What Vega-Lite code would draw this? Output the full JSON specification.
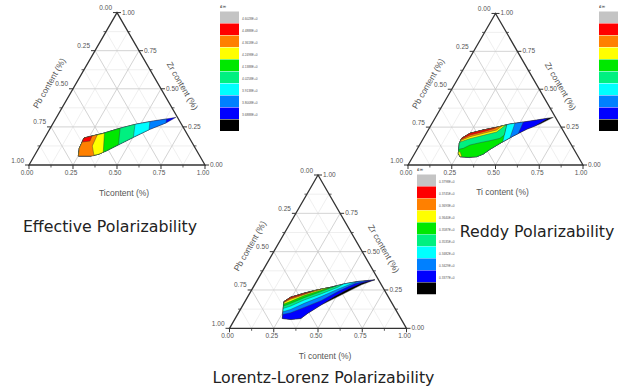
{
"$schema":"https://vega.github.io/schema/vega-lite/v6.json",
"width":619,"height":391,"padding":0,"autosize":"none",
"config":{"view":{"stroke":null}},
"datasets":{"d":[
{"k":"f","p":"A","id":"f","i":0,"ti":0,"zr":0},{"k":"f","p":"A","id":"f","i":1,"ti":1,"zr":0},{"k":"f","p":"A","id":"f","i":2,"ti":0,"zr":1},
{"k":"g","p":"A","id":"t1","i":0,"ti":0.125,"zr":0,"m":0},{"k":"g","p":"A","id":"t1","i":1,"ti":0.125,"zr":0.875,"m":0},
{"k":"g","p":"A","id":"t2","i":0,"ti":0.25,"zr":0,"m":1},{"k":"g","p":"A","id":"t2","i":1,"ti":0.25,"zr":0.75,"m":1},
{"k":"g","p":"A","id":"t3","i":0,"ti":0.375,"zr":0,"m":0},{"k":"g","p":"A","id":"t3","i":1,"ti":0.375,"zr":0.625,"m":0},
{"k":"g","p":"A","id":"t4","i":0,"ti":0.5,"zr":0,"m":1},{"k":"g","p":"A","id":"t4","i":1,"ti":0.5,"zr":0.5,"m":1},
{"k":"g","p":"A","id":"t5","i":0,"ti":0.625,"zr":0,"m":0},{"k":"g","p":"A","id":"t5","i":1,"ti":0.625,"zr":0.375,"m":0},
{"k":"g","p":"A","id":"t6","i":0,"ti":0.75,"zr":0,"m":1},{"k":"g","p":"A","id":"t6","i":1,"ti":0.75,"zr":0.25,"m":1},
{"k":"g","p":"A","id":"t7","i":0,"ti":0.875,"zr":0,"m":0},{"k":"g","p":"A","id":"t7","i":1,"ti":0.875,"zr":0.125,"m":0},
{"k":"g","p":"A","id":"z1","i":0,"ti":0,"zr":0.125,"m":0},{"k":"g","p":"A","id":"z1","i":1,"ti":0.875,"zr":0.125,"m":0},
{"k":"g","p":"A","id":"z2","i":0,"ti":0,"zr":0.25,"m":1},{"k":"g","p":"A","id":"z2","i":1,"ti":0.75,"zr":0.25,"m":1},
{"k":"g","p":"A","id":"z3","i":0,"ti":0,"zr":0.375,"m":0},{"k":"g","p":"A","id":"z3","i":1,"ti":0.625,"zr":0.375,"m":0},
{"k":"g","p":"A","id":"z4","i":0,"ti":0,"zr":0.5,"m":1},{"k":"g","p":"A","id":"z4","i":1,"ti":0.5,"zr":0.5,"m":1},
{"k":"g","p":"A","id":"z5","i":0,"ti":0,"zr":0.625,"m":0},{"k":"g","p":"A","id":"z5","i":1,"ti":0.375,"zr":0.625,"m":0},
{"k":"g","p":"A","id":"z6","i":0,"ti":0,"zr":0.75,"m":1},{"k":"g","p":"A","id":"z6","i":1,"ti":0.25,"zr":0.75,"m":1},
{"k":"g","p":"A","id":"z7","i":0,"ti":0,"zr":0.875,"m":0},{"k":"g","p":"A","id":"z7","i":1,"ti":0.125,"zr":0.875,"m":0},
{"k":"g","p":"A","id":"p1","i":0,"ti":0.875,"zr":0,"m":0},{"k":"g","p":"A","id":"p1","i":1,"ti":0,"zr":0.875,"m":0},
{"k":"g","p":"A","id":"p2","i":0,"ti":0.75,"zr":0,"m":1},{"k":"g","p":"A","id":"p2","i":1,"ti":0,"zr":0.75,"m":1},
{"k":"g","p":"A","id":"p3","i":0,"ti":0.625,"zr":0,"m":0},{"k":"g","p":"A","id":"p3","i":1,"ti":0,"zr":0.625,"m":0},
{"k":"g","p":"A","id":"p4","i":0,"ti":0.5,"zr":0,"m":1},{"k":"g","p":"A","id":"p4","i":1,"ti":0,"zr":0.5,"m":1},
{"k":"g","p":"A","id":"p5","i":0,"ti":0.375,"zr":0,"m":0},{"k":"g","p":"A","id":"p5","i":1,"ti":0,"zr":0.375,"m":0},
{"k":"g","p":"A","id":"p6","i":0,"ti":0.25,"zr":0,"m":1},{"k":"g","p":"A","id":"p6","i":1,"ti":0,"zr":0.25,"m":1},
{"k":"g","p":"A","id":"p7","i":0,"ti":0.125,"zr":0,"m":0},{"k":"g","p":"A","id":"p7","i":1,"ti":0,"zr":0.125,"m":0},
{"k":"k","p":"A","ax":"L","m":1,"ti":0,"zr":1},{"k":"k","p":"A","ax":"L","m":0,"ti":0,"zr":0.875},{"k":"k","p":"A","ax":"L","m":1,"ti":0,"zr":0.75},{"k":"k","p":"A","ax":"L","m":0,"ti":0,"zr":0.625},{"k":"k","p":"A","ax":"L","m":1,"ti":0,"zr":0.5},{"k":"k","p":"A","ax":"L","m":0,"ti":0,"zr":0.375},{"k":"k","p":"A","ax":"L","m":1,"ti":0,"zr":0.25},{"k":"k","p":"A","ax":"L","m":0,"ti":0,"zr":0.125},{"k":"k","p":"A","ax":"L","m":1,"ti":0,"zr":0},
{"k":"k","p":"A","ax":"R","m":1,"ti":0,"zr":1},{"k":"k","p":"A","ax":"R","m":0,"ti":0.125,"zr":0.875},{"k":"k","p":"A","ax":"R","m":1,"ti":0.25,"zr":0.75},{"k":"k","p":"A","ax":"R","m":0,"ti":0.375,"zr":0.625},{"k":"k","p":"A","ax":"R","m":1,"ti":0.5,"zr":0.5},{"k":"k","p":"A","ax":"R","m":0,"ti":0.625,"zr":0.375},{"k":"k","p":"A","ax":"R","m":1,"ti":0.75,"zr":0.25},{"k":"k","p":"A","ax":"R","m":0,"ti":0.875,"zr":0.125},{"k":"k","p":"A","ax":"R","m":1,"ti":1,"zr":0},
{"k":"k","p":"A","ax":"B","m":1,"ti":0,"zr":0},{"k":"k","p":"A","ax":"B","m":0,"ti":0.125,"zr":0},{"k":"k","p":"A","ax":"B","m":1,"ti":0.25,"zr":0},{"k":"k","p":"A","ax":"B","m":0,"ti":0.375,"zr":0},{"k":"k","p":"A","ax":"B","m":1,"ti":0.5,"zr":0},{"k":"k","p":"A","ax":"B","m":0,"ti":0.625,"zr":0},{"k":"k","p":"A","ax":"B","m":1,"ti":0.75,"zr":0},{"k":"k","p":"A","ax":"B","m":0,"ti":0.875,"zr":0},{"k":"k","p":"A","ax":"B","m":1,"ti":1,"zr":0},
{"k":"l","p":"A","ax":"L","ti":0,"zr":1,"t":"0.00"},{"k":"l","p":"A","ax":"L","ti":0,"zr":0.75,"t":"0.25"},{"k":"l","p":"A","ax":"L","ti":0,"zr":0.5,"t":"0.50"},{"k":"l","p":"A","ax":"L","ti":0,"zr":0.25,"t":"0.75"},{"k":"l","p":"A","ax":"L","ti":0,"zr":0,"t":"1.00"},
{"k":"l","p":"A","ax":"R","ti":1,"zr":0,"t":"0.00"},{"k":"l","p":"A","ax":"R","ti":0.75,"zr":0.25,"t":"0.25"},{"k":"l","p":"A","ax":"R","ti":0.5,"zr":0.5,"t":"0.50"},{"k":"l","p":"A","ax":"R","ti":0.25,"zr":0.75,"t":"0.75"},{"k":"l","p":"A","ax":"R","ti":0,"zr":1,"t":"1.00"},
{"k":"l","p":"A","ax":"B","ti":0,"zr":0,"t":"0.00"},{"k":"l","p":"A","ax":"B","ti":0.25,"zr":0,"t":"0.25"},{"k":"l","p":"A","ax":"B","ti":0.5,"zr":0,"t":"0.50"},{"k":"l","p":"A","ax":"B","ti":0.75,"zr":0,"t":"0.75"},{"k":"l","p":"A","ax":"B","ti":1,"zr":0,"t":"1.00"},
{"k":"a","p":"E","ax":"L","t":"Pb content (%)","ti":-0.1535,"zr":0.537},{"k":"a","p":"E","ax":"R","t":"Zr content (%)","ti":0.6122,"zr":0.5196},{"k":"a","p":"E","ax":"B","t":"Ticontent (%)","ti":0.6306,"zr":-0.1813},
{"k":"a","p":"R","ax":"L","t":"Pb content (%)","ti":-0.1535,"zr":0.537},{"k":"a","p":"R","ax":"R","t":"Zr content (%)","ti":0.6122,"zr":0.5196},{"k":"a","p":"R","ax":"B","t":"Ti content (%)","ti":0.6306,"zr":-0.1813},
{"k":"a","p":"L","ax":"L","t":"Pb content (%)","ti":-0.1535,"zr":0.537},{"k":"a","p":"L","ax":"R","t":"Zr content (%)","ti":0.6122,"zr":0.5196},{"k":"a","p":"L","ax":"B","t":"Ti content (%)","ti":0.6306,"zr":-0.1813},
{"k":"T","p":"E","t":"Effective Polarizability","ti":0.68,"zr":-0.4396},
{"k":"T","p":"R","t":"Reddy Polarizability","ti":0.9746,"zr":-0.4751},
{"k":"T","p":"L","t":"Lorentz-Lorenz Polarizability","ti":0.7085,"zr":-0.3549},

{"k":"c","p":"E","id":"e01","lv":"E8","i":0,"ti":0.224,"zr":0.177},{"k":"c","p":"E","id":"e01","lv":"E8","i":1,"ti":0.318,"zr":0.208},{"k":"c","p":"E","id":"e01","lv":"E8","i":2,"ti":0.397,"zr":0.241},{"k":"c","p":"E","id":"e01","lv":"E8","i":3,"ti":0.478,"zr":0.269},{"k":"c","p":"E","id":"e01","lv":"E8","i":4,"ti":0.562,"zr":0.289},{"k":"c","p":"E","id":"e01","lv":"E8","i":5,"ti":0.648,"zr":0.306},{"k":"c","p":"E","id":"e01","lv":"E8","i":6,"ti":0.679,"zr":0.313},{"k":"c","p":"E","id":"e01","lv":"E8","i":7,"ti":0.643,"zr":0.278},{"k":"c","p":"E","id":"e01","lv":"E8","i":8,"ti":0.570,"zr":0.234},{"k":"c","p":"E","id":"e01","lv":"E8","i":9,"ti":0.502,"zr":0.182},{"k":"c","p":"E","id":"e01","lv":"E8","i":10,"ti":0.448,"zr":0.138},{"k":"c","p":"E","id":"e01","lv":"E8","i":11,"ti":0.394,"zr":0.094},{"k":"c","p":"E","id":"e01","lv":"E8","i":12,"ti":0.359,"zr":0.070},{"k":"c","p":"E","id":"e01","lv":"E8","i":13,"ti":0.318,"zr":0.059},{"k":"c","p":"E","id":"e01","lv":"E8","i":14,"ti":0.251,"zr":0.059},{"k":"c","p":"E","id":"e01","lv":"E8","i":15,"ti":0.231,"zr":0.110},
{"k":"c","p":"E","id":"e02","lv":"E7","i":0,"ti":0.631,"zr":0.302},{"k":"c","p":"E","id":"e02","lv":"E7","i":1,"ti":0.640,"zr":0.276},{"k":"c","p":"E","id":"e02","lv":"E7","i":2,"ti":0.570,"zr":0.234},{"k":"c","p":"E","id":"e02","lv":"E7","i":3,"ti":0.502,"zr":0.182},{"k":"c","p":"E","id":"e02","lv":"E7","i":4,"ti":0.448,"zr":0.138},{"k":"c","p":"E","id":"e02","lv":"E7","i":5,"ti":0.394,"zr":0.094},{"k":"c","p":"E","id":"e02","lv":"E7","i":6,"ti":0.359,"zr":0.070},{"k":"c","p":"E","id":"e02","lv":"E7","i":7,"ti":0.318,"zr":0.059},{"k":"c","p":"E","id":"e02","lv":"E7","i":8,"ti":0.251,"zr":0.059},{"k":"c","p":"E","id":"e02","lv":"E7","i":9,"ti":0.231,"zr":0.110},{"k":"c","p":"E","id":"e02","lv":"E7","i":10,"ti":0.224,"zr":0.177},{"k":"c","p":"E","id":"e02","lv":"E7","i":11,"ti":0.318,"zr":0.208},{"k":"c","p":"E","id":"e02","lv":"E7","i":12,"ti":0.397,"zr":0.241},{"k":"c","p":"E","id":"e02","lv":"E7","i":13,"ti":0.478,"zr":0.269},{"k":"c","p":"E","id":"e02","lv":"E7","i":14,"ti":0.562,"zr":0.289},
{"k":"c","p":"E","id":"e03","lv":"E6","i":0,"ti":0.545,"zr":0.284},{"k":"c","p":"E","id":"e03","lv":"E6","i":1,"ti":0.566,"zr":0.232},{"k":"c","p":"E","id":"e03","lv":"E6","i":2,"ti":0.502,"zr":0.182},{"k":"c","p":"E","id":"e03","lv":"E6","i":3,"ti":0.448,"zr":0.138},{"k":"c","p":"E","id":"e03","lv":"E6","i":4,"ti":0.394,"zr":0.094},{"k":"c","p":"E","id":"e03","lv":"E6","i":5,"ti":0.359,"zr":0.070},{"k":"c","p":"E","id":"e03","lv":"E6","i":6,"ti":0.318,"zr":0.059},{"k":"c","p":"E","id":"e03","lv":"E6","i":7,"ti":0.251,"zr":0.059},{"k":"c","p":"E","id":"e03","lv":"E6","i":8,"ti":0.231,"zr":0.110},{"k":"c","p":"E","id":"e03","lv":"E6","i":9,"ti":0.224,"zr":0.177},{"k":"c","p":"E","id":"e03","lv":"E6","i":10,"ti":0.318,"zr":0.208},{"k":"c","p":"E","id":"e03","lv":"E6","i":11,"ti":0.397,"zr":0.241},{"k":"c","p":"E","id":"e03","lv":"E6","i":12,"ti":0.478,"zr":0.269},
{"k":"c","p":"E","id":"e04","lv":"E5","i":0,"ti":0.469,"zr":0.267},{"k":"c","p":"E","id":"e04","lv":"E5","i":1,"ti":0.502,"zr":0.182},{"k":"c","p":"E","id":"e04","lv":"E5","i":2,"ti":0.448,"zr":0.138},{"k":"c","p":"E","id":"e04","lv":"E5","i":3,"ti":0.394,"zr":0.094},{"k":"c","p":"E","id":"e04","lv":"E5","i":4,"ti":0.359,"zr":0.070},{"k":"c","p":"E","id":"e04","lv":"E5","i":5,"ti":0.318,"zr":0.059},{"k":"c","p":"E","id":"e04","lv":"E5","i":6,"ti":0.251,"zr":0.059},{"k":"c","p":"E","id":"e04","lv":"E5","i":7,"ti":0.231,"zr":0.110},{"k":"c","p":"E","id":"e04","lv":"E5","i":8,"ti":0.224,"zr":0.177},{"k":"c","p":"E","id":"e04","lv":"E5","i":9,"ti":0.318,"zr":0.208},{"k":"c","p":"E","id":"e04","lv":"E5","i":10,"ti":0.397,"zr":0.241},
{"k":"c","p":"E","id":"e05","lv":"E4","i":0,"ti":0.397,"zr":0.241},{"k":"c","p":"E","id":"e05","lv":"E4","i":1,"ti":0.441,"zr":0.135},{"k":"c","p":"E","id":"e05","lv":"E4","i":2,"ti":0.394,"zr":0.094},{"k":"c","p":"E","id":"e05","lv":"E4","i":3,"ti":0.359,"zr":0.070},{"k":"c","p":"E","id":"e05","lv":"E4","i":4,"ti":0.318,"zr":0.059},{"k":"c","p":"E","id":"e05","lv":"E4","i":5,"ti":0.251,"zr":0.059},{"k":"c","p":"E","id":"e05","lv":"E4","i":6,"ti":0.231,"zr":0.110},{"k":"c","p":"E","id":"e05","lv":"E4","i":7,"ti":0.224,"zr":0.177},{"k":"c","p":"E","id":"e05","lv":"E4","i":8,"ti":0.318,"zr":0.208},
{"k":"c","p":"E","id":"e06","lv":"E3","i":0,"ti":0.324,"zr":0.209},{"k":"c","p":"E","id":"e06","lv":"E3","i":1,"ti":0.380,"zr":0.084},{"k":"c","p":"E","id":"e06","lv":"E3","i":2,"ti":0.359,"zr":0.070},{"k":"c","p":"E","id":"e06","lv":"E3","i":3,"ti":0.318,"zr":0.059},{"k":"c","p":"E","id":"e06","lv":"E3","i":4,"ti":0.251,"zr":0.059},{"k":"c","p":"E","id":"e06","lv":"E3","i":5,"ti":0.231,"zr":0.110},{"k":"c","p":"E","id":"e06","lv":"E3","i":6,"ti":0.224,"zr":0.177},
{"k":"c","p":"E","id":"e07","lv":"E2","i":0,"ti":0.289,"zr":0.199},{"k":"c","p":"E","id":"e07","lv":"E2","i":1,"ti":0.297,"zr":0.125},{"k":"c","p":"E","id":"e07","lv":"E2","i":2,"ti":0.339,"zr":0.061},{"k":"c","p":"E","id":"e07","lv":"E2","i":3,"ti":0.318,"zr":0.059},{"k":"c","p":"E","id":"e07","lv":"E2","i":4,"ti":0.251,"zr":0.059},{"k":"c","p":"E","id":"e07","lv":"E2","i":5,"ti":0.231,"zr":0.110},{"k":"c","p":"E","id":"e07","lv":"E2","i":6,"ti":0.224,"zr":0.177},
{"k":"c","p":"E","id":"e08","lv":"E1","i":0,"ti":0.224,"zr":0.177},{"k":"c","p":"E","id":"e08","lv":"E1","i":1,"ti":0.263,"zr":0.190},{"k":"c","p":"E","id":"e08","lv":"E1","i":2,"ti":0.268,"zr":0.157},{"k":"c","p":"E","id":"e08","lv":"E1","i":3,"ti":0.227,"zr":0.151},

{"k":"c","p":"R","id":"r01","lv":"R9","i":0,"ti":0.2187,"zr":0.1759},{"k":"c","p":"R","id":"r01","lv":"R9","i":1,"ti":0.2498,"zr":0.2089},{"k":"c","p":"R","id":"r01","lv":"R9","i":2,"ti":0.3150,"zr":0.2309},{"k":"c","p":"R","id":"r01","lv":"R9","i":3,"ti":0.3824,"zr":0.2485},{"k":"c","p":"R","id":"r01","lv":"R9","i":4,"ti":0.4476,"zr":0.2705},{"k":"c","p":"R","id":"r01","lv":"R9","i":5,"ti":0.5172,"zr":0.2837},{"k":"c","p":"R","id":"r01","lv":"R9","i":6,"ti":0.5868,"zr":0.2969},{"k":"c","p":"R","id":"r01","lv":"R9","i":7,"ti":0.6733,"zr":0.3145},{"k":"c","p":"R","id":"r01","lv":"R9","i":8,"ti":0.6191,"zr":0.2705},{"k":"c","p":"R","id":"r01","lv":"R9","i":9,"ti":0.5605,"zr":0.2353},{"k":"c","p":"R","id":"r01","lv":"R9","i":10,"ti":0.5063,"zr":0.1913},{"k":"c","p":"R","id":"r01","lv":"R9","i":11,"ti":0.4543,"zr":0.1429},{"k":"c","p":"R","id":"r01","lv":"R9","i":12,"ti":0.4169,"zr":0.1033},{"k":"c","p":"R","id":"r01","lv":"R9","i":13,"ti":0.3942,"zr":0.0725},{"k":"c","p":"R","id":"r01","lv":"R9","i":14,"ti":0.3649,"zr":0.0549},{"k":"c","p":"R","id":"r01","lv":"R9","i":15,"ti":0.3195,"zr":0.0505},{"k":"c","p":"R","id":"r01","lv":"R9","i":16,"ti":0.2697,"zr":0.0549},{"k":"c","p":"R","id":"r01","lv":"R9","i":17,"ti":0.2492,"zr":0.0769},{"k":"c","p":"R","id":"r01","lv":"R9","i":18,"ti":0.2219,"zr":0.1429},
{"k":"c","p":"R","id":"r02","lv":"R8","i":0,"ti":0.6473,"zr":0.3092},{"k":"c","p":"R","id":"r02","lv":"R8","i":1,"ti":0.5971,"zr":0.2573},{"k":"c","p":"R","id":"r02","lv":"R8","i":2,"ti":0.5605,"zr":0.2353},{"k":"c","p":"R","id":"r02","lv":"R8","i":3,"ti":0.5063,"zr":0.1913},{"k":"c","p":"R","id":"r02","lv":"R8","i":4,"ti":0.4543,"zr":0.1429},{"k":"c","p":"R","id":"r02","lv":"R8","i":5,"ti":0.4169,"zr":0.1033},{"k":"c","p":"R","id":"r02","lv":"R8","i":6,"ti":0.3942,"zr":0.0725},{"k":"c","p":"R","id":"r02","lv":"R8","i":7,"ti":0.3649,"zr":0.0549},{"k":"c","p":"R","id":"r02","lv":"R8","i":8,"ti":0.3195,"zr":0.0505},{"k":"c","p":"R","id":"r02","lv":"R8","i":9,"ti":0.2697,"zr":0.0549},{"k":"c","p":"R","id":"r02","lv":"R8","i":10,"ti":0.2492,"zr":0.0769},{"k":"c","p":"R","id":"r02","lv":"R8","i":11,"ti":0.2219,"zr":0.1429},{"k":"c","p":"R","id":"r02","lv":"R8","i":12,"ti":0.2187,"zr":0.1759},{"k":"c","p":"R","id":"r02","lv":"R8","i":13,"ti":0.2498,"zr":0.2089},{"k":"c","p":"R","id":"r02","lv":"R8","i":14,"ti":0.3150,"zr":0.2309},{"k":"c","p":"R","id":"r02","lv":"R8","i":15,"ti":0.3824,"zr":0.2485},{"k":"c","p":"R","id":"r02","lv":"R8","i":16,"ti":0.4476,"zr":0.2705},{"k":"c","p":"R","id":"r02","lv":"R8","i":17,"ti":0.5172,"zr":0.2837},{"k":"c","p":"R","id":"r02","lv":"R8","i":18,"ti":0.5868,"zr":0.2969},
{"k":"c","p":"R","id":"r03","lv":"R7","i":0,"ti":0.5172,"zr":0.2837},{"k":"c","p":"R","id":"r03","lv":"R7","i":1,"ti":0.5266,"zr":0.2078},{"k":"c","p":"R","id":"r03","lv":"R7","i":2,"ti":0.5063,"zr":0.1913},{"k":"c","p":"R","id":"r03","lv":"R7","i":3,"ti":0.4543,"zr":0.1429},{"k":"c","p":"R","id":"r03","lv":"R7","i":4,"ti":0.4169,"zr":0.1033},{"k":"c","p":"R","id":"r03","lv":"R7","i":5,"ti":0.3942,"zr":0.0725},{"k":"c","p":"R","id":"r03","lv":"R7","i":6,"ti":0.3649,"zr":0.0549},{"k":"c","p":"R","id":"r03","lv":"R7","i":7,"ti":0.3195,"zr":0.0505},{"k":"c","p":"R","id":"r03","lv":"R7","i":8,"ti":0.2697,"zr":0.0549},{"k":"c","p":"R","id":"r03","lv":"R7","i":9,"ti":0.2492,"zr":0.0769},{"k":"c","p":"R","id":"r03","lv":"R7","i":10,"ti":0.2219,"zr":0.1429},{"k":"c","p":"R","id":"r03","lv":"R7","i":11,"ti":0.2187,"zr":0.1759},{"k":"c","p":"R","id":"r03","lv":"R7","i":12,"ti":0.2498,"zr":0.2089},{"k":"c","p":"R","id":"r03","lv":"R7","i":13,"ti":0.3150,"zr":0.2309},{"k":"c","p":"R","id":"r03","lv":"R7","i":14,"ti":0.3824,"zr":0.2485},{"k":"c","p":"R","id":"r03","lv":"R7","i":15,"ti":0.4476,"zr":0.2705},
{"k":"c","p":"R","id":"r04","lv":"R6","i":0,"ti":0.4737,"zr":0.2755},{"k":"c","p":"R","id":"r04","lv":"R6","i":1,"ti":0.4933,"zr":0.1792},{"k":"c","p":"R","id":"r04","lv":"R6","i":2,"ti":0.4543,"zr":0.1429},{"k":"c","p":"R","id":"r04","lv":"R6","i":3,"ti":0.4169,"zr":0.1033},{"k":"c","p":"R","id":"r04","lv":"R6","i":4,"ti":0.3942,"zr":0.0725},{"k":"c","p":"R","id":"r04","lv":"R6","i":5,"ti":0.3649,"zr":0.0549},{"k":"c","p":"R","id":"r04","lv":"R6","i":6,"ti":0.3195,"zr":0.0505},{"k":"c","p":"R","id":"r04","lv":"R6","i":7,"ti":0.2697,"zr":0.0549},{"k":"c","p":"R","id":"r04","lv":"R6","i":8,"ti":0.2492,"zr":0.0769},{"k":"c","p":"R","id":"r04","lv":"R6","i":9,"ti":0.2219,"zr":0.1429},{"k":"c","p":"R","id":"r04","lv":"R6","i":10,"ti":0.2187,"zr":0.1759},{"k":"c","p":"R","id":"r04","lv":"R6","i":11,"ti":0.2498,"zr":0.2089},{"k":"c","p":"R","id":"r04","lv":"R6","i":12,"ti":0.3150,"zr":0.2309},{"k":"c","p":"R","id":"r04","lv":"R6","i":13,"ti":0.3824,"zr":0.2485},{"k":"c","p":"R","id":"r04","lv":"R6","i":14,"ti":0.4476,"zr":0.2705},
{"k":"c","p":"R","id":"r05","lv":"R4","i":0,"ti":0.4313,"zr":0.2650},{"k":"c","p":"R","id":"r05","lv":"R4","i":1,"ti":0.4512,"zr":0.1979},{"k":"c","p":"R","id":"r05","lv":"R4","i":2,"ti":0.4647,"zr":0.1526},{"k":"c","p":"R","id":"r05","lv":"R4","i":3,"ti":0.4543,"zr":0.1429},{"k":"c","p":"R","id":"r05","lv":"R4","i":4,"ti":0.4169,"zr":0.1033},{"k":"c","p":"R","id":"r05","lv":"R4","i":5,"ti":0.3942,"zr":0.0725},{"k":"c","p":"R","id":"r05","lv":"R4","i":6,"ti":0.3649,"zr":0.0549},{"k":"c","p":"R","id":"r05","lv":"R4","i":7,"ti":0.3195,"zr":0.0505},{"k":"c","p":"R","id":"r05","lv":"R4","i":8,"ti":0.2697,"zr":0.0549},{"k":"c","p":"R","id":"r05","lv":"R4","i":9,"ti":0.2492,"zr":0.0769},{"k":"c","p":"R","id":"r05","lv":"R4","i":10,"ti":0.2219,"zr":0.1429},{"k":"c","p":"R","id":"r05","lv":"R4","i":11,"ti":0.2187,"zr":0.1759},{"k":"c","p":"R","id":"r05","lv":"R4","i":12,"ti":0.2498,"zr":0.2089},{"k":"c","p":"R","id":"r05","lv":"R4","i":13,"ti":0.3150,"zr":0.2309},{"k":"c","p":"R","id":"r05","lv":"R4","i":14,"ti":0.3824,"zr":0.2485},
{"k":"c","p":"R","id":"r06","lv":"R5","i":0,"ti":0.2379,"zr":0.1033},{"k":"c","p":"R","id":"r06","lv":"R5","i":1,"ti":0.2219,"zr":0.1429},{"k":"c","p":"R","id":"r06","lv":"R5","i":2,"ti":0.2187,"zr":0.1759},{"k":"c","p":"R","id":"r06","lv":"R5","i":3,"ti":0.2498,"zr":0.2089},{"k":"c","p":"R","id":"r06","lv":"R5","i":4,"ti":0.3150,"zr":0.2309},{"k":"c","p":"R","id":"r06","lv":"R5","i":5,"ti":0.3824,"zr":0.2485},{"k":"c","p":"R","id":"r06","lv":"R5","i":6,"ti":0.4313,"zr":0.2650},{"k":"c","p":"R","id":"r06","lv":"R5","i":7,"ti":0.4512,"zr":0.1979},{"k":"c","p":"R","id":"r06","lv":"R5","i":8,"ti":0.4378,"zr":0.1759},{"k":"c","p":"R","id":"r06","lv":"R5","i":9,"ti":0.3883,"zr":0.1605},{"k":"c","p":"R","id":"r06","lv":"R5","i":10,"ti":0.3378,"zr":0.1473},{"k":"c","p":"R","id":"r06","lv":"R5","i":11,"ti":0.2884,"zr":0.1319},{"k":"c","p":"R","id":"r06","lv":"R5","i":12,"ti":0.2613,"zr":0.1099},
{"k":"c","p":"R","id":"r07","lv":"R3","i":0,"ti":0.2213,"zr":0.1517},{"k":"c","p":"R","id":"r07","lv":"R3","i":1,"ti":0.2187,"zr":0.1759},{"k":"c","p":"R","id":"r07","lv":"R3","i":2,"ti":0.2498,"zr":0.2089},{"k":"c","p":"R","id":"r07","lv":"R3","i":3,"ti":0.3150,"zr":0.2309},{"k":"c","p":"R","id":"r07","lv":"R3","i":4,"ti":0.3824,"zr":0.2485},{"k":"c","p":"R","id":"r07","lv":"R3","i":5,"ti":0.4265,"zr":0.2632},{"k":"c","p":"R","id":"r07","lv":"R3","i":6,"ti":0.3978,"zr":0.2177},{"k":"c","p":"R","id":"r07","lv":"R3","i":7,"ti":0.3326,"zr":0.1957},{"k":"c","p":"R","id":"r07","lv":"R3","i":8,"ti":0.2674,"zr":0.1737},
{"k":"c","p":"R","id":"r08","lv":"R2","i":0,"ti":0.2202,"zr":0.1616},{"k":"c","p":"R","id":"r08","lv":"R2","i":1,"ti":0.2187,"zr":0.1759},{"k":"c","p":"R","id":"r08","lv":"R2","i":2,"ti":0.2498,"zr":0.2089},{"k":"c","p":"R","id":"r08","lv":"R2","i":3,"ti":0.3150,"zr":0.2309},{"k":"c","p":"R","id":"r08","lv":"R2","i":4,"ti":0.3824,"zr":0.2485},{"k":"c","p":"R","id":"r08","lv":"R2","i":5,"ti":0.4069,"zr":0.2566},{"k":"c","p":"R","id":"r08","lv":"R2","i":6,"ti":0.3913,"zr":0.2309},{"k":"c","p":"R","id":"r08","lv":"R2","i":7,"ti":0.3261,"zr":0.2089},{"k":"c","p":"R","id":"r08","lv":"R2","i":8,"ti":0.2609,"zr":0.1869},
{"k":"c","p":"R","id":"r09","lv":"R1","i":0,"ti":0.2196,"zr":0.1704},{"k":"c","p":"R","id":"r09","lv":"R1","i":1,"ti":0.2187,"zr":0.1759},{"k":"c","p":"R","id":"r09","lv":"R1","i":2,"ti":0.2498,"zr":0.2089},{"k":"c","p":"R","id":"r09","lv":"R1","i":3,"ti":0.3150,"zr":0.2309},{"k":"c","p":"R","id":"r09","lv":"R1","i":4,"ti":0.3824,"zr":0.2485},{"k":"c","p":"R","id":"r09","lv":"R1","i":5,"ti":0.3684,"zr":0.2386},{"k":"c","p":"R","id":"r09","lv":"R1","i":6,"ti":0.3206,"zr":0.2199},{"k":"c","p":"R","id":"r09","lv":"R1","i":7,"ti":0.2554,"zr":0.1979},
{"k":"c","p":"R","id":"r10","lv":"R3","i":0,"ti":0.2437,"zr":0.0901},{"k":"c","p":"R","id":"r10","lv":"R3","i":1,"ti":0.2573,"zr":0.0835},{"k":"c","p":"R","id":"r10","lv":"R3","i":2,"ti":0.2781,"zr":0.0571},{"k":"c","p":"R","id":"r10","lv":"R3","i":3,"ti":0.2697,"zr":0.0549},{"k":"c","p":"R","id":"r10","lv":"R3","i":4,"ti":0.2492,"zr":0.0769},

{"k":"c","p":"L","id":"l01","lv":"L9","i":0,"ti":0.2662,"zr":0.0638},{"k":"c","p":"L","id":"l01","lv":"L9","i":1,"ti":0.3171,"zr":0.0572},{"k":"c","p":"L","id":"l01","lv":"L9","i":2,"ti":0.3710,"zr":0.0638},{"k":"c","p":"L","id":"l01","lv":"L9","i":3,"ti":0.3926,"zr":0.0968},{"k":"c","p":"L","id":"l01","lv":"L9","i":4,"ti":0.4413,"zr":0.1518},{"k":"c","p":"L","id":"l01","lv":"L9","i":5,"ti":0.4955,"zr":0.1957},{"k":"c","p":"L","id":"l01","lv":"L9","i":6,"ti":0.5497,"zr":0.2397},{"k":"c","p":"L","id":"l01","lv":"L9","i":7,"ti":0.6039,"zr":0.2837},{"k":"c","p":"L","id":"l01","lv":"L9","i":8,"ti":0.6636,"zr":0.3167},{"k":"c","p":"L","id":"l01","lv":"L9","i":9,"ti":0.5738,"zr":0.3057},{"k":"c","p":"L","id":"l01","lv":"L9","i":10,"ti":0.5053,"zr":0.2903},{"k":"c","p":"L","id":"l01","lv":"L9","i":11,"ti":0.4402,"zr":0.2683},{"k":"c","p":"L","id":"l01","lv":"L9","i":12,"ti":0.3728,"zr":0.2507},{"k":"c","p":"L","id":"l01","lv":"L9","i":13,"ti":0.3076,"zr":0.2287},{"k":"c","p":"L","id":"l01","lv":"L9","i":14,"ti":0.2446,"zr":0.2023},{"k":"c","p":"L","id":"l01","lv":"L9","i":15,"ti":0.2207,"zr":0.1737},
{"k":"c","p":"L","id":"l02","lv":"L8","i":0,"ti":0.2662,"zr":0.0638},{"k":"c","p":"L","id":"l02","lv":"L8","i":1,"ti":0.3171,"zr":0.0572},{"k":"c","p":"L","id":"l02","lv":"L8","i":2,"ti":0.3710,"zr":0.0638},{"k":"c","p":"L","id":"l02","lv":"L8","i":3,"ti":0.3926,"zr":0.0968},{"k":"c","p":"L","id":"l02","lv":"L8","i":4,"ti":0.4413,"zr":0.1518},{"k":"c","p":"L","id":"l02","lv":"L8","i":5,"ti":0.4900,"zr":0.2067},{"k":"c","p":"L","id":"l02","lv":"L8","i":6,"ti":0.5420,"zr":0.2551},{"k":"c","p":"L","id":"l02","lv":"L8","i":7,"ti":0.5984,"zr":0.2947},{"k":"c","p":"L","id":"l02","lv":"L8","i":8,"ti":0.6636,"zr":0.3167},{"k":"c","p":"L","id":"l02","lv":"L8","i":9,"ti":0.5738,"zr":0.3057},{"k":"c","p":"L","id":"l02","lv":"L8","i":10,"ti":0.5053,"zr":0.2903},{"k":"c","p":"L","id":"l02","lv":"L8","i":11,"ti":0.4402,"zr":0.2683},{"k":"c","p":"L","id":"l02","lv":"L8","i":12,"ti":0.3728,"zr":0.2507},{"k":"c","p":"L","id":"l02","lv":"L8","i":13,"ti":0.3076,"zr":0.2287},{"k":"c","p":"L","id":"l02","lv":"L8","i":14,"ti":0.2446,"zr":0.2023},{"k":"c","p":"L","id":"l02","lv":"L8","i":15,"ti":0.2207,"zr":0.1737},
{"k":"c","p":"L","id":"l03","lv":"L7","i":0,"ti":0.2549,"zr":0.0902},{"k":"c","p":"L","id":"l03","lv":"L7","i":1,"ti":0.2951,"zr":0.1012},{"k":"c","p":"L","id":"l03","lv":"L7","i":2,"ti":0.3537,"zr":0.1364},{"k":"c","p":"L","id":"l03","lv":"L7","i":3,"ti":0.4269,"zr":0.1803},{"k":"c","p":"L","id":"l03","lv":"L7","i":4,"ti":0.4925,"zr":0.2397},{"k":"c","p":"L","id":"l03","lv":"L7","i":5,"ti":0.5624,"zr":0.2903},{"k":"c","p":"L","id":"l03","lv":"L7","i":6,"ti":0.6276,"zr":0.3123},{"k":"c","p":"L","id":"l03","lv":"L7","i":7,"ti":0.5738,"zr":0.3057},{"k":"c","p":"L","id":"l03","lv":"L7","i":8,"ti":0.5053,"zr":0.2903},{"k":"c","p":"L","id":"l03","lv":"L7","i":9,"ti":0.4402,"zr":0.2683},{"k":"c","p":"L","id":"l03","lv":"L7","i":10,"ti":0.3728,"zr":0.2507},{"k":"c","p":"L","id":"l03","lv":"L7","i":11,"ti":0.3076,"zr":0.2287},{"k":"c","p":"L","id":"l03","lv":"L7","i":12,"ti":0.2446,"zr":0.2023},{"k":"c","p":"L","id":"l03","lv":"L7","i":13,"ti":0.2207,"zr":0.1737},
{"k":"c","p":"L","id":"l04","lv":"L6","i":0,"ti":0.2480,"zr":0.1078},{"k":"c","p":"L","id":"l04","lv":"L6","i":1,"ti":0.2841,"zr":0.1232},{"k":"c","p":"L","id":"l04","lv":"L6","i":2,"ti":0.3405,"zr":0.1627},{"k":"c","p":"L","id":"l04","lv":"L6","i":3,"ti":0.4138,"zr":0.2067},{"k":"c","p":"L","id":"l04","lv":"L6","i":4,"ti":0.4848,"zr":0.2551},{"k":"c","p":"L","id":"l04","lv":"L6","i":5,"ti":0.5654,"zr":0.3035},{"k":"c","p":"L","id":"l04","lv":"L6","i":6,"ti":0.5053,"zr":0.2903},{"k":"c","p":"L","id":"l04","lv":"L6","i":7,"ti":0.4402,"zr":0.2683},{"k":"c","p":"L","id":"l04","lv":"L6","i":8,"ti":0.3728,"zr":0.2507},{"k":"c","p":"L","id":"l04","lv":"L6","i":9,"ti":0.3076,"zr":0.2287},{"k":"c","p":"L","id":"l04","lv":"L6","i":10,"ti":0.2446,"zr":0.2023},{"k":"c","p":"L","id":"l04","lv":"L6","i":11,"ti":0.2207,"zr":0.1737},
{"k":"c","p":"L","id":"l05","lv":"L5","i":0,"ti":0.2389,"zr":0.1298},{"k":"c","p":"L","id":"l05","lv":"L5","i":1,"ti":0.2731,"zr":0.1452},{"k":"c","p":"L","id":"l05","lv":"L5","i":2,"ti":0.3295,"zr":0.1847},{"k":"c","p":"L","id":"l05","lv":"L5","i":3,"ti":0.4050,"zr":0.2243},{"k":"c","p":"L","id":"l05","lv":"L5","i":4,"ti":0.4782,"zr":0.2683},{"k":"c","p":"L","id":"l05","lv":"L5","i":5,"ti":0.4972,"zr":0.2875},{"k":"c","p":"L","id":"l05","lv":"L5","i":6,"ti":0.4402,"zr":0.2683},{"k":"c","p":"L","id":"l05","lv":"L5","i":7,"ti":0.3728,"zr":0.2507},{"k":"c","p":"L","id":"l05","lv":"L5","i":8,"ti":0.3076,"zr":0.2287},{"k":"c","p":"L","id":"l05","lv":"L5","i":9,"ti":0.2446,"zr":0.2023},{"k":"c","p":"L","id":"l05","lv":"L5","i":10,"ti":0.2207,"zr":0.1737},
{"k":"c","p":"L","id":"l06","lv":"L4","i":0,"ti":0.2332,"zr":0.1452},{"k":"c","p":"L","id":"l06","lv":"L4","i":1,"ti":0.2644,"zr":0.1627},{"k":"c","p":"L","id":"l06","lv":"L4","i":2,"ti":0.3219,"zr":0.2001},{"k":"c","p":"L","id":"l06","lv":"L4","i":3,"ti":0.3973,"zr":0.2397},{"k":"c","p":"L","id":"l06","lv":"L4","i":4,"ti":0.4646,"zr":0.2766},{"k":"c","p":"L","id":"l06","lv":"L4","i":5,"ti":0.4402,"zr":0.2683},{"k":"c","p":"L","id":"l06","lv":"L4","i":6,"ti":0.3728,"zr":0.2507},{"k":"c","p":"L","id":"l06","lv":"L4","i":7,"ti":0.3076,"zr":0.2287},{"k":"c","p":"L","id":"l06","lv":"L4","i":8,"ti":0.2446,"zr":0.2023},{"k":"c","p":"L","id":"l06","lv":"L4","i":9,"ti":0.2207,"zr":0.1737},
{"k":"c","p":"L","id":"l07","lv":"L3","i":0,"ti":0.2275,"zr":0.1584},{"k":"c","p":"L","id":"l07","lv":"L3","i":1,"ti":0.2578,"zr":0.1759},{"k":"c","p":"L","id":"l07","lv":"L3","i":2,"ti":0.3153,"zr":0.2133},{"k":"c","p":"L","id":"l07","lv":"L3","i":3,"ti":0.3772,"zr":0.2419},{"k":"c","p":"L","id":"l07","lv":"L3","i":4,"ti":0.4317,"zr":0.2661},{"k":"c","p":"L","id":"l07","lv":"L3","i":5,"ti":0.3728,"zr":0.2507},{"k":"c","p":"L","id":"l07","lv":"L3","i":6,"ti":0.3076,"zr":0.2287},{"k":"c","p":"L","id":"l07","lv":"L3","i":7,"ti":0.2446,"zr":0.2023},{"k":"c","p":"L","id":"l07","lv":"L3","i":8,"ti":0.2207,"zr":0.1737},
{"k":"c","p":"L","id":"l08","lv":"L2","i":0,"ti":0.2230,"zr":0.1693},{"k":"c","p":"L","id":"l08","lv":"L2","i":1,"ti":0.2512,"zr":0.1891},{"k":"c","p":"L","id":"l08","lv":"L2","i":2,"ti":0.3120,"zr":0.2199},{"k":"c","p":"L","id":"l08","lv":"L2","i":3,"ti":0.3581,"zr":0.2419},{"k":"c","p":"L","id":"l08","lv":"L2","i":4,"ti":0.3896,"zr":0.2551},{"k":"c","p":"L","id":"l08","lv":"L2","i":5,"ti":0.3728,"zr":0.2507},{"k":"c","p":"L","id":"l08","lv":"L2","i":6,"ti":0.3076,"zr":0.2287},{"k":"c","p":"L","id":"l08","lv":"L2","i":7,"ti":0.2446,"zr":0.2023},{"k":"c","p":"L","id":"l08","lv":"L2","i":8,"ti":0.2207,"zr":0.1737},
{"k":"c","p":"L","id":"l09","lv":"L1","i":0,"ti":0.2251,"zr":0.1727},{"k":"c","p":"L","id":"l09","lv":"L1","i":1,"ti":0.2479,"zr":0.1957},{"k":"c","p":"L","id":"l09","lv":"L1","i":2,"ti":0.3103,"zr":0.2232},{"k":"c","p":"L","id":"l09","lv":"L1","i":3,"ti":0.3483,"zr":0.2425},{"k":"c","p":"L","id":"l09","lv":"L1","i":4,"ti":0.3076,"zr":0.2287},{"k":"c","p":"L","id":"l09","lv":"L1","i":5,"ti":0.2446,"zr":0.2023},{"k":"c","p":"L","id":"l09","lv":"L1","i":6,"ti":0.2207,"zr":0.1737}
]},
"data":{"name":"d"},
"resolve":{"scale":{"x":"independent","y":"independent","fill":"independent"},"legend":{"fill":"independent"}},
"layer":[
{"transform":[{"filter":"datum.p=='A'||datum.p=='E'"},{"calculate":"datum.ti+datum.zr/2","as":"x"},{"calculate":"datum.zr*0.8660254","as":"y"}],
"layer":[
{"transform":[{"filter":"datum.k=='g'&&datum.m==0"}],"mark":{"type":"line","stroke":"#e4e4e4","strokeWidth":0.6},"encoding":{"x":{"field":"x","type":"quantitative","scale":{"domain":[-0.16477,3.35227],"nice":false,"zero":false},"axis":null},"y":{"field":"y","type":"quantitative","scale":{"domain":[-1.28409,0.9375],"nice":false,"zero":false},"axis":null},"detail":{"field":"id"},"order":{"field":"i","type":"quantitative"}}},
{"transform":[{"filter":"datum.k=='g'&&datum.m==1"}],"mark":{"type":"line","stroke":"#c8c8c8","strokeWidth":0.8},"encoding":{"x":{"field":"x","type":"quantitative","scale":{"domain":[-0.16477,3.35227],"nice":false,"zero":false},"axis":null},"y":{"field":"y","type":"quantitative","scale":{"domain":[-1.28409,0.9375],"nice":false,"zero":false},"axis":null},"detail":{"field":"id"},"order":{"field":"i","type":"quantitative"}}},
{"transform":[{"filter":"datum.k=='c'"}],"mark":{"type":"line","interpolate":"linear-closed","stroke":"#333333","strokeWidth":0.4},"encoding":{"x":{"field":"x","type":"quantitative","scale":{"domain":[-0.16477,3.35227],"nice":false,"zero":false},"axis":null},"y":{"field":"y","type":"quantitative","scale":{"domain":[-1.28409,0.9375],"nice":false,"zero":false},"axis":null},"detail":{"field":"id"},"order":{"field":"i","type":"quantitative"},"fill":{"field":"lv","type":"nominal","scale":{"domain":["E0","E1","E2","E3","E4","E5","E6","E7","E8","E9"],"range":["#c4c4c4","#ff0000","#ff8000","#ffff00","#00e800","#00f080","#00ffff","#0080ff","#0000ff","#000000"]},"legend":{"orient":"none","legendX":220,"legendY":4,"title":"ε∞","titleFont":"DejaVu Sans","titleFontSize":4.5,"titleColor":"#444","titlePadding":3,"symbolType":"M-1,-1H1V1H-1Z","symbolSize":361,"symbolStrokeWidth":0,"clipHeight":11.6,"rowPadding":0,"padding":0,"labelFont":"Liberation Sans","labelFontSize":3.2,"labelColor":"#555","labelOffset":3,"labelBaseline":"top","labelExpr":"['4.6028E+0','4.4888E+0','4.3618E+0','4.2498E+0','4.1388E+0','4.0258E+0','3.9138E+0','3.8008E+0','3.6888E+0',''][toNumber(slice(datum.label,1))]"}}}},
{"transform":[{"filter":"datum.k=='f'"}],"mark":{"type":"line","interpolate":"linear-closed","stroke":"#333333","strokeWidth":1.3},"encoding":{"x":{"field":"x","type":"quantitative","scale":{"domain":[-0.16477,3.35227],"nice":false,"zero":false},"axis":null},"y":{"field":"y","type":"quantitative","scale":{"domain":[-1.28409,0.9375],"nice":false,"zero":false},"axis":null},"order":{"field":"i","type":"quantitative"}}},
{"transform":[{"filter":"datum.k=='k'&&datum.m==1"}],"mark":{"type":"point","filled":false,"stroke":"#333333","strokeWidth":1,"size":64,"opacity":1},"encoding":{"x":{"field":"x","type":"quantitative","scale":{"domain":[-0.16477,3.35227],"nice":false,"zero":false},"axis":null},"y":{"field":"y","type":"quantitative","scale":{"domain":[-1.28409,0.9375],"nice":false,"zero":false},"axis":null},"shape":{"field":"ax","type":"nominal","scale":{"domain":["L","R","B"],"range":["M-1,0H0","M0,0H1","M0,0V1"]},"legend":null}}},
{"transform":[{"filter":"datum.k=='k'&&datum.m==0"}],"mark":{"type":"point","filled":false,"stroke":"#333333","strokeWidth":0.8,"size":25,"opacity":1},"encoding":{"x":{"field":"x","type":"quantitative","scale":{"domain":[-0.16477,3.35227],"nice":false,"zero":false},"axis":null},"y":{"field":"y","type":"quantitative","scale":{"domain":[-1.28409,0.9375],"nice":false,"zero":false},"axis":null},"shape":{"field":"ax","type":"nominal","scale":{"domain":["L","R","B"],"range":["M-1,0H0","M0,0H1","M0,0V1"]},"legend":null}}},
{"transform":[{"filter":"datum.k=='l'&&datum.ax=='L'"}],"mark":{"type":"text","align":"right","baseline":"bottom","dx":-5,"dy":-1.5,"font":"Liberation Sans","fontSize":6.5,"fill":"#555555"},"encoding":{"x":{"field":"x","type":"quantitative","scale":{"domain":[-0.16477,3.35227],"nice":false,"zero":false},"axis":null},"y":{"field":"y","type":"quantitative","scale":{"domain":[-1.28409,0.9375],"nice":false,"zero":false},"axis":null},"text":{"field":"t"}}},
{"transform":[{"filter":"datum.k=='l'&&datum.ax=='R'"}],"mark":{"type":"text","align":"left","baseline":"middle","dx":5,"font":"Liberation Sans","fontSize":6.5,"fill":"#555555"},"encoding":{"x":{"field":"x","type":"quantitative","scale":{"domain":[-0.16477,3.35227],"nice":false,"zero":false},"axis":null},"y":{"field":"y","type":"quantitative","scale":{"domain":[-1.28409,0.9375],"nice":false,"zero":false},"axis":null},"text":{"field":"t"}}},
{"transform":[{"filter":"datum.k=='l'&&datum.ax=='B'"}],"mark":{"type":"text","align":"center","baseline":"top","dx":-2,"dy":5,"font":"Liberation Sans","fontSize":6.5,"fill":"#555555"},"encoding":{"x":{"field":"x","type":"quantitative","scale":{"domain":[-0.16477,3.35227],"nice":false,"zero":false},"axis":null},"y":{"field":"y","type":"quantitative","scale":{"domain":[-1.28409,0.9375],"nice":false,"zero":false},"axis":null},"text":{"field":"t"}}},
{"transform":[{"filter":"datum.k=='a'"}],"mark":{"type":"text","align":"center","baseline":"middle","font":"Liberation Sans","fontSize":8.5,"fill":"#555555"},"encoding":{"x":{"field":"x","type":"quantitative","scale":{"domain":[-0.16477,3.35227],"nice":false,"zero":false},"axis":null},"y":{"field":"y","type":"quantitative","scale":{"domain":[-1.28409,0.9375],"nice":false,"zero":false},"axis":null},"text":{"field":"t"},"angle":{"condition":[{"test":"datum.ax=='L'","value":300},{"test":"datum.ax=='R'","value":60}],"value":0}}},
{"transform":[{"filter":"datum.k=='T'"}],"mark":{"type":"text","align":"center","baseline":"alphabetic","font":"DejaVu Sans","fontSize":15.8,"fill":"#222222"},"encoding":{"x":{"field":"x","type":"quantitative","scale":{"domain":[-0.16477,3.35227],"nice":false,"zero":false},"axis":null},"y":{"field":"y","type":"quantitative","scale":{"domain":[-1.28409,0.9375],"nice":false,"zero":false},"axis":null},"text":{"field":"t"}}}
]},
{"transform":[{"filter":"datum.p=='A'||datum.p=='R'"},{"calculate":"datum.ti+datum.zr/2","as":"x"},{"calculate":"datum.zr*0.8660254","as":"y"}],
"layer":[
{"transform":[{"filter":"datum.k=='g'&&datum.m==0"}],"mark":{"type":"line","stroke":"#e4e4e4","strokeWidth":0.6},"encoding":{"x":{"field":"x","type":"quantitative","scale":{"domain":[-2.33143,1.20571],"nice":false,"zero":false},"axis":null},"y":{"field":"y","type":"quantitative","scale":{"domain":[-1.29143,0.94286],"nice":false,"zero":false},"axis":null},"detail":{"field":"id"},"order":{"field":"i","type":"quantitative"}}},
{"transform":[{"filter":"datum.k=='g'&&datum.m==1"}],"mark":{"type":"line","stroke":"#c8c8c8","strokeWidth":0.8},"encoding":{"x":{"field":"x","type":"quantitative","scale":{"domain":[-2.33143,1.20571],"nice":false,"zero":false},"axis":null},"y":{"field":"y","type":"quantitative","scale":{"domain":[-1.29143,0.94286],"nice":false,"zero":false},"axis":null},"detail":{"field":"id"},"order":{"field":"i","type":"quantitative"}}},
{"transform":[{"filter":"datum.k=='c'"}],"mark":{"type":"line","interpolate":"linear-closed","stroke":"#333333","strokeWidth":0.4},"encoding":{"x":{"field":"x","type":"quantitative","scale":{"domain":[-2.33143,1.20571],"nice":false,"zero":false},"axis":null},"y":{"field":"y","type":"quantitative","scale":{"domain":[-1.29143,0.94286],"nice":false,"zero":false},"axis":null},"detail":{"field":"id"},"order":{"field":"i","type":"quantitative"},"fill":{"field":"lv","type":"nominal","scale":{"domain":["R0","R1","R2","R3","R4","R5","R6","R7","R8","R9"],"range":["#c4c4c4","#ff0000","#ff8000","#ffff00","#00e800","#00f080","#00ffff","#0080ff","#0000ff","#000000"]},"legend":{"orient":"none","legendX":599,"legendY":4,"title":"ε∞","titleFont":"DejaVu Sans","titleFontSize":4.5,"titleColor":"#444","titlePadding":3,"symbolType":"M-1,-1H1V1H-1Z","symbolSize":361,"symbolStrokeWidth":0,"clipHeight":11.6,"rowPadding":0,"padding":0,"labelFontSize":3.2,"labelOffset":0,"labelExpr":"''"}}}},
{"transform":[{"filter":"datum.k=='f'"}],"mark":{"type":"line","interpolate":"linear-closed","stroke":"#333333","strokeWidth":1.3},"encoding":{"x":{"field":"x","type":"quantitative","scale":{"domain":[-2.33143,1.20571],"nice":false,"zero":false},"axis":null},"y":{"field":"y","type":"quantitative","scale":{"domain":[-1.29143,0.94286],"nice":false,"zero":false},"axis":null},"order":{"field":"i","type":"quantitative"}}},
{"transform":[{"filter":"datum.k=='k'&&datum.m==1"}],"mark":{"type":"point","filled":false,"stroke":"#333333","strokeWidth":1,"size":64,"opacity":1},"encoding":{"x":{"field":"x","type":"quantitative","scale":{"domain":[-2.33143,1.20571],"nice":false,"zero":false},"axis":null},"y":{"field":"y","type":"quantitative","scale":{"domain":[-1.29143,0.94286],"nice":false,"zero":false},"axis":null},"shape":{"field":"ax","type":"nominal","scale":{"domain":["L","R","B"],"range":["M-1,0H0","M0,0H1","M0,0V1"]},"legend":null}}},
{"transform":[{"filter":"datum.k=='k'&&datum.m==0"}],"mark":{"type":"point","filled":false,"stroke":"#333333","strokeWidth":0.8,"size":25,"opacity":1},"encoding":{"x":{"field":"x","type":"quantitative","scale":{"domain":[-2.33143,1.20571],"nice":false,"zero":false},"axis":null},"y":{"field":"y","type":"quantitative","scale":{"domain":[-1.29143,0.94286],"nice":false,"zero":false},"axis":null},"shape":{"field":"ax","type":"nominal","scale":{"domain":["L","R","B"],"range":["M-1,0H0","M0,0H1","M0,0V1"]},"legend":null}}},
{"transform":[{"filter":"datum.k=='l'&&datum.ax=='L'"}],"mark":{"type":"text","align":"right","baseline":"bottom","dx":-5,"dy":-1.5,"font":"Liberation Sans","fontSize":6.5,"fill":"#555555"},"encoding":{"x":{"field":"x","type":"quantitative","scale":{"domain":[-2.33143,1.20571],"nice":false,"zero":false},"axis":null},"y":{"field":"y","type":"quantitative","scale":{"domain":[-1.29143,0.94286],"nice":false,"zero":false},"axis":null},"text":{"field":"t"}}},
{"transform":[{"filter":"datum.k=='l'&&datum.ax=='R'"}],"mark":{"type":"text","align":"left","baseline":"middle","dx":5,"font":"Liberation Sans","fontSize":6.5,"fill":"#555555"},"encoding":{"x":{"field":"x","type":"quantitative","scale":{"domain":[-2.33143,1.20571],"nice":false,"zero":false},"axis":null},"y":{"field":"y","type":"quantitative","scale":{"domain":[-1.29143,0.94286],"nice":false,"zero":false},"axis":null},"text":{"field":"t"}}},
{"transform":[{"filter":"datum.k=='l'&&datum.ax=='B'"}],"mark":{"type":"text","align":"center","baseline":"top","dx":-2,"dy":5,"font":"Liberation Sans","fontSize":6.5,"fill":"#555555"},"encoding":{"x":{"field":"x","type":"quantitative","scale":{"domain":[-2.33143,1.20571],"nice":false,"zero":false},"axis":null},"y":{"field":"y","type":"quantitative","scale":{"domain":[-1.29143,0.94286],"nice":false,"zero":false},"axis":null},"text":{"field":"t"}}},
{"transform":[{"filter":"datum.k=='a'"}],"mark":{"type":"text","align":"center","baseline":"middle","font":"Liberation Sans","fontSize":8.5,"fill":"#555555"},"encoding":{"x":{"field":"x","type":"quantitative","scale":{"domain":[-2.33143,1.20571],"nice":false,"zero":false},"axis":null},"y":{"field":"y","type":"quantitative","scale":{"domain":[-1.29143,0.94286],"nice":false,"zero":false},"axis":null},"text":{"field":"t"},"angle":{"condition":[{"test":"datum.ax=='L'","value":300},{"test":"datum.ax=='R'","value":60}],"value":0}}},
{"transform":[{"filter":"datum.k=='T'"}],"mark":{"type":"text","align":"center","baseline":"alphabetic","font":"DejaVu Sans","fontSize":15.8,"fill":"#222222"},"encoding":{"x":{"field":"x","type":"quantitative","scale":{"domain":[-2.33143,1.20571],"nice":false,"zero":false},"axis":null},"y":{"field":"y","type":"quantitative","scale":{"domain":[-1.29143,0.94286],"nice":false,"zero":false},"axis":null},"text":{"field":"t"}}}
]},
{"transform":[{"filter":"datum.p=='A'||datum.p=='L'"},{"calculate":"datum.ti+datum.zr/2","as":"x"},{"calculate":"datum.zr*0.8660254","as":"y"}],
"layer":[
{"transform":[{"filter":"datum.k=='g'&&datum.m==0"}],"mark":{"type":"line","stroke":"#e4e4e4","strokeWidth":0.6},"encoding":{"x":{"field":"x","type":"quantitative","scale":{"domain":[-1.29661,2.20056],"nice":false,"zero":false},"axis":null},"y":{"field":"y","type":"quantitative","scale":{"domain":[-0.35424,1.8548],"nice":false,"zero":false},"axis":null},"detail":{"field":"id"},"order":{"field":"i","type":"quantitative"}}},
{"transform":[{"filter":"datum.k=='g'&&datum.m==1"}],"mark":{"type":"line","stroke":"#c8c8c8","strokeWidth":0.8},"encoding":{"x":{"field":"x","type":"quantitative","scale":{"domain":[-1.29661,2.20056],"nice":false,"zero":false},"axis":null},"y":{"field":"y","type":"quantitative","scale":{"domain":[-0.35424,1.8548],"nice":false,"zero":false},"axis":null},"detail":{"field":"id"},"order":{"field":"i","type":"quantitative"}}},
{"transform":[{"filter":"datum.k=='c'"}],"mark":{"type":"line","interpolate":"linear-closed","stroke":"#333333","strokeWidth":0.4},"encoding":{"x":{"field":"x","type":"quantitative","scale":{"domain":[-1.29661,2.20056],"nice":false,"zero":false},"axis":null},"y":{"field":"y","type":"quantitative","scale":{"domain":[-0.35424,1.8548],"nice":false,"zero":false},"axis":null},"detail":{"field":"id"},"order":{"field":"i","type":"quantitative"},"fill":{"field":"lv","type":"nominal","scale":{"domain":["L0","L1","L2","L3","L4","L5","L6","L7","L8","L9"],"range":["#c4c4c4","#ff0000","#ff8000","#ffff00","#00e800","#00f080","#00ffff","#0080ff","#0000ff","#000000"]},"legend":{"orient":"none","legendX":417,"legendY":167,"title":"ε∞","titleFont":"DejaVu Sans","titleFontSize":4.5,"titleColor":"#444","titlePadding":3,"symbolType":"M-1,-1H1V1H-1Z","symbolSize":361,"symbolStrokeWidth":0,"clipHeight":11.7,"rowPadding":0,"padding":0,"labelFont":"Liberation Sans","labelFontSize":3.2,"labelColor":"#555","labelOffset":3,"labelBaseline":"top","labelExpr":"['0.3798E+0','0.3745E+0','0.3693E+0','0.3640E+0','0.3587E+0','0.3535E+0','0.3482E+0','0.3429E+0','0.3377E+0',''][toNumber(slice(datum.label,1))]"}}}},
{"transform":[{"filter":"datum.k=='f'"}],"mark":{"type":"line","interpolate":"linear-closed","stroke":"#333333","strokeWidth":1.3},"encoding":{"x":{"field":"x","type":"quantitative","scale":{"domain":[-1.29661,2.20056],"nice":false,"zero":false},"axis":null},"y":{"field":"y","type":"quantitative","scale":{"domain":[-0.35424,1.8548],"nice":false,"zero":false},"axis":null},"order":{"field":"i","type":"quantitative"}}},
{"transform":[{"filter":"datum.k=='k'&&datum.m==1"}],"mark":{"type":"point","filled":false,"stroke":"#333333","strokeWidth":1,"size":64,"opacity":1},"encoding":{"x":{"field":"x","type":"quantitative","scale":{"domain":[-1.29661,2.20056],"nice":false,"zero":false},"axis":null},"y":{"field":"y","type":"quantitative","scale":{"domain":[-0.35424,1.8548],"nice":false,"zero":false},"axis":null},"shape":{"field":"ax","type":"nominal","scale":{"domain":["L","R","B"],"range":["M-1,0H0","M0,0H1","M0,0V1"]},"legend":null}}},
{"transform":[{"filter":"datum.k=='k'&&datum.m==0"}],"mark":{"type":"point","filled":false,"stroke":"#333333","strokeWidth":0.8,"size":25,"opacity":1},"encoding":{"x":{"field":"x","type":"quantitative","scale":{"domain":[-1.29661,2.20056],"nice":false,"zero":false},"axis":null},"y":{"field":"y","type":"quantitative","scale":{"domain":[-0.35424,1.8548],"nice":false,"zero":false},"axis":null},"shape":{"field":"ax","type":"nominal","scale":{"domain":["L","R","B"],"range":["M-1,0H0","M0,0H1","M0,0V1"]},"legend":null}}},
{"transform":[{"filter":"datum.k=='l'&&datum.ax=='L'"}],"mark":{"type":"text","align":"right","baseline":"bottom","dx":-5,"dy":-1.5,"font":"Liberation Sans","fontSize":6.5,"fill":"#555555"},"encoding":{"x":{"field":"x","type":"quantitative","scale":{"domain":[-1.29661,2.20056],"nice":false,"zero":false},"axis":null},"y":{"field":"y","type":"quantitative","scale":{"domain":[-0.35424,1.8548],"nice":false,"zero":false},"axis":null},"text":{"field":"t"}}},
{"transform":[{"filter":"datum.k=='l'&&datum.ax=='R'"}],"mark":{"type":"text","align":"left","baseline":"middle","dx":5,"font":"Liberation Sans","fontSize":6.5,"fill":"#555555"},"encoding":{"x":{"field":"x","type":"quantitative","scale":{"domain":[-1.29661,2.20056],"nice":false,"zero":false},"axis":null},"y":{"field":"y","type":"quantitative","scale":{"domain":[-0.35424,1.8548],"nice":false,"zero":false},"axis":null},"text":{"field":"t"}}},
{"transform":[{"filter":"datum.k=='l'&&datum.ax=='B'"}],"mark":{"type":"text","align":"center","baseline":"top","dx":-2,"dy":5,"font":"Liberation Sans","fontSize":6.5,"fill":"#555555"},"encoding":{"x":{"field":"x","type":"quantitative","scale":{"domain":[-1.29661,2.20056],"nice":false,"zero":false},"axis":null},"y":{"field":"y","type":"quantitative","scale":{"domain":[-0.35424,1.8548],"nice":false,"zero":false},"axis":null},"text":{"field":"t"}}},
{"transform":[{"filter":"datum.k=='a'"}],"mark":{"type":"text","align":"center","baseline":"middle","font":"Liberation Sans","fontSize":8.5,"fill":"#555555"},"encoding":{"x":{"field":"x","type":"quantitative","scale":{"domain":[-1.29661,2.20056],"nice":false,"zero":false},"axis":null},"y":{"field":"y","type":"quantitative","scale":{"domain":[-0.35424,1.8548],"nice":false,"zero":false},"axis":null},"text":{"field":"t"},"angle":{"condition":[{"test":"datum.ax=='L'","value":300},{"test":"datum.ax=='R'","value":60}],"value":0}}},
{"transform":[{"filter":"datum.k=='T'"}],"mark":{"type":"text","align":"center","baseline":"alphabetic","font":"DejaVu Sans","fontSize":15.8,"fill":"#222222"},"encoding":{"x":{"field":"x","type":"quantitative","scale":{"domain":[-1.29661,2.20056],"nice":false,"zero":false},"axis":null},"y":{"field":"y","type":"quantitative","scale":{"domain":[-0.35424,1.8548],"nice":false,"zero":false},"axis":null},"text":{"field":"t"}}}
]}
]
}
